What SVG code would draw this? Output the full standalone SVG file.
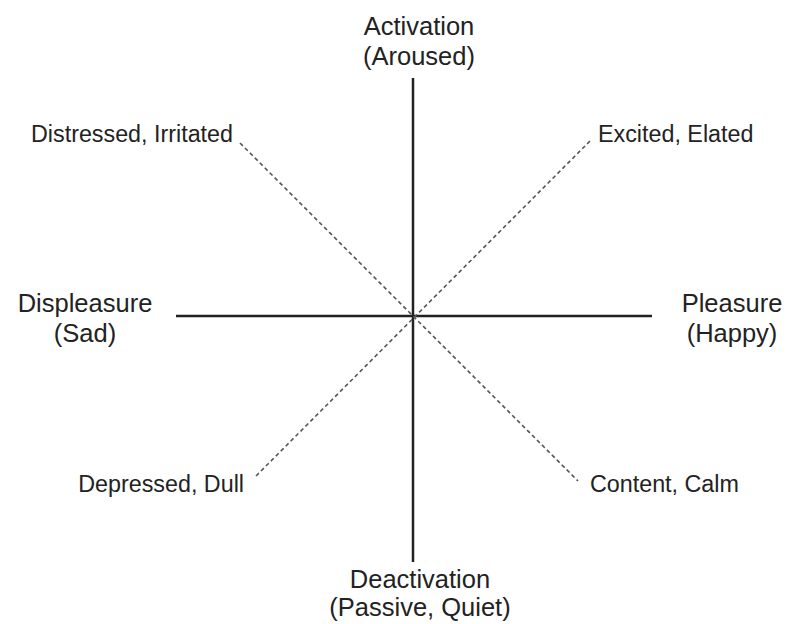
<svg xmlns="http://www.w3.org/2000/svg" width="787" height="624" viewBox="0 0 787 624">
<style>
.axis{stroke:#222;stroke-width:2.5;fill:none}
.diag{stroke:#555;stroke-width:1.6;stroke-dasharray:4 3;fill:none}
.big{font-family:"Liberation Sans",Arial,sans-serif;font-size:25.5px;fill:#222;text-anchor:middle}
.small{font-family:"Liberation Sans",Arial,sans-serif;font-size:23.3px;fill:#222}
</style>
<rect width="787" height="624" fill="#fff"/>
<g id="connectors">
<line class="axis" x1="413" y1="78" x2="413" y2="562"/>
<line class="axis" x1="176" y1="316" x2="652" y2="316"/>
<line class="diag" x1="240" y1="143" x2="578" y2="481"/>
<line class="diag" x1="590" y1="141" x2="255" y2="477"/>
</g>
<g id="activation"><text class="big" x="419" y="35">Activation</text><text class="big" x="419" y="65">(Aroused)</text></g>
<g id="deactivation"><text class="big" x="420" y="588">Deactivation</text><text class="big" x="420" y="616">(Passive, Quiet)</text></g>
<g id="displeasure"><text class="big" x="85" y="312">Displeasure</text><text class="big" x="85" y="342">(Sad)</text></g>
<g id="pleasure"><text class="big" x="732" y="312">Pleasure</text><text class="big" x="732" y="342">(Happy)</text></g>
<g id="distressed"><text class="small" x="233" y="142" text-anchor="end">Distressed, Irritated</text></g>
<g id="excited"><text class="small" x="598" y="142">Excited, Elated</text></g>
<g id="depressed"><text class="small" x="244" y="492" text-anchor="end">Depressed, Dull</text></g>
<g id="content"><text class="small" x="590" y="492">Content, Calm</text></g>
</svg>
